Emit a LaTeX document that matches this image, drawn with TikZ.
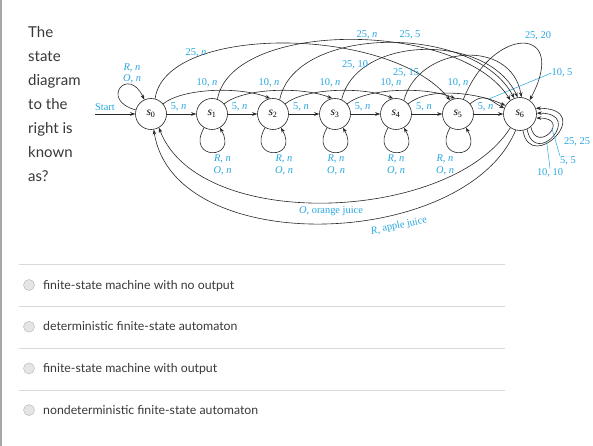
\documentclass[tikz,border=0pt]{standalone}
\usepackage{fontspec}
\setmainfont{Liberation Serif}
\newfontfamily\uifont{Lato}
\usetikzlibrary{arrows.meta}

\definecolor{label blue}{RGB}{38,166,222}
\colorlet{edge line}{black!85}
\colorlet{ui text}{black!78}
\newcommand{\nout}{\textit{n}}
\newcommand{\sname}[1]{\textit{s}\textsubscript{#1}}
\tikzset{
  state/.style={circle, draw=edge line, fill=white, line width=0.6pt, minimum size=31pt, inner sep=0pt, font=\fontsize{11.5}{12}\selectfont},
  edge/.style={draw=edge line, line width=0.6pt, -{Stealth[length=5pt,width=3.6pt]}},
  lbl/.style={text=label blue, font=\fontsize{10.4}{11.5}\selectfont, inner sep=0pt, align=center},
  leader/.style={draw=label blue, line width=0.5pt}
  }
\tikzstyle{question}=[text=ui text, font=\uifont\fontsize{15}{24}\selectfont, inner sep=0pt]
\tikzstyle{option}=[text=ui text, font=\uifont\fontsize{12.3}{16}\selectfont, inner sep=0pt]
\tikzstyle{radio}=[circle, draw=black!30, fill=black!10, minimum size=11pt, inner sep=0pt]
\tikzstyle{rule}=[draw=black!15, line width=0.8pt]

\begin{document}
\begin{tikzpicture}[x=1pt,y=1pt]
   \useasboundingbox (0,0) rectangle (593,-446);
   \draw[black!35, line width=1.5pt] (0.75,0) -- (0.75,-446);

   % question text on the left
   \foreach \txt [count=\i] in {The, state, diagram, to the, right is, known, as?}
      \node[question, anchor=base west] (q\i) at (28,{-38-24*(\i-1)}) {\txt};

   % states
   \foreach \i/\x in {0/151,1/212,2/273,3/335,4/396,5/458}
      \node[state] (s\i) at (\x,-114) {\sname{\i}};
   \node[state, minimum size=33pt] (s6) at (520,-114) {\sname{6}};

   \coordinate (start) at (95,-114);
   \node[lbl] (startlbl) at (105,-107.5) {Start};
   \draw[edge] (start) -- (s0);

   % 5 cents
   \foreach \a/\b in {0/1,1/2,2/3,3/4,4/5,5/6}
      \draw[edge] (s\a) -- node[lbl, pos=0.4, above=3pt] (five\a) {5, \nout} (s\b);

   % 10 cents
   \foreach \a/\b/\lx in {0/2/207,1/3/269,2/4/330,3/5/391}{
      \draw[edge] (s\a.40) .. controls +(20,16) and +(-30,12) .. (s\b.100);
      \node[lbl] (ten\a) at (\lx,-82.5) {10, \nout};
   }
   \draw[edge] (s4.40) .. controls +(22,18) and +(-25,12) .. (s6.150);
   \node[lbl] (ten4) at (458,-82.5) {10, \nout};
   \draw[edge] (s5.40) .. controls +(15,12) and +(-15,8) .. coordinate[pos=0.55] (tenfive) (s6.160);
   \node[lbl] (l105) at (562,-73) {10, 5};
   \draw[leader] (l105.west) -- (tenfive);

   % 25 cents
   \draw[edge] (s0.75) .. controls +(10,75) and +(-60,75) .. (s5.120);
   \node[lbl] (q0) at (196,-53) {25, \nout};
   \draw[edge] (s1.70) .. controls +(15,80) and +(-50,80) .. (s6.125);
   \node[lbl] (q1) at (367,-35) {25, \nout};
   \draw[edge] (s2.65) .. controls +(15,75) and +(-40,75) .. (s6.110);
   \node[lbl] (q2) at (410,-35) {25, 5};
   \draw[edge] (s3.65) .. controls +(15,65) and +(-30,65) .. (s6.98);
   \node[lbl] (q3) at (355,-64.5) {25, 10};
   \draw[edge] (s4.60) .. controls +(15,55) and +(-10,60) .. (s6.85);
   \node[lbl] (q4) at (406,-73) {25, 15};
   \draw[edge] (s5.70) .. controls +(30,75) and +(40,75) .. (s6.55);
   \node[lbl] (q5) at (538,-36) {25, 20};

   % refund and idle loops
   \draw[edge] (s0.165) .. controls +(165:38) and +(115:38) .. (s0.115);
   \node[lbl] (idle0) at (132,-73.5) {\textit{R}, \nout\\\textit{O}, \nout};
   \foreach \i/\x/\dx in {1/212/10.5,2/273/11,3/335/1,4/396/0,5/458/-13}{
      \draw[edge] (s\i.240) .. controls +(240:38) and +(300:38) .. (s\i.300);
      \node[lbl] (idle\i) at (\x+\dx,-165) {\textit{R}, \nout\\\textit{O}, \nout};
   }
   % s6 loops, outer to inner
   \draw[edge] (s6.-80) .. controls +(8,-45) and +(62,0) .. (s6.20);
   \draw[edge] (s6.-65) .. controls +(8,-40) and +(48,0) .. coordinate[pos=0.38] (tenten) (s6.3);
   \draw[edge] (s6.-50) .. controls +(6,-28) and +(36,0) .. coordinate[pos=0.62] (fivefive) (s6.-14);
   \node[lbl] (l2525) at (577,-142) {25, 25};
   \node[lbl] (l55) at (568,-160.5) {5, 5};
   \node[lbl] (l1010) at (550,-173) {10, 10};
   \draw[leader] (l55.north west) -- (fivefive);
   \draw[leader] (l1010.north) -- (tenten);

   % juice
   \draw[edge] (s6.235) .. controls +(-60,-95) and +(40,-105) .. (s0.-60);
   \node[lbl] (oj) at (331,-211) {\textit{O}, orange juice};
   \draw[edge] (s6.255) .. controls +(-50,-120) and +(20,-130) .. (s0.-80);
   \node[lbl, rotate=12] (aj) at (399,-226) {\textit{R}, apple juice};

   % answers
   \foreach \txt [count=\i] in {finite-state machine with no output, deterministic finite-state automaton, finite-state machine with output, nondeterministic finite-state automaton}{
      \coordinate (ra\i) at (19,{-264-42*(\i-1)});
      \coordinate (rb\i) at (505,{-264-42*(\i-1)});
      \draw[rule] (ra\i) -- (rb\i);
      \node[radio] (r\i) at (29,{-285-41.7*(\i-1)}) {};
      \node[option, anchor=base west] (o\i) at (43,{-289-41.7*(\i-1)}) {\txt};
   }
\end{tikzpicture}
\end{document}
